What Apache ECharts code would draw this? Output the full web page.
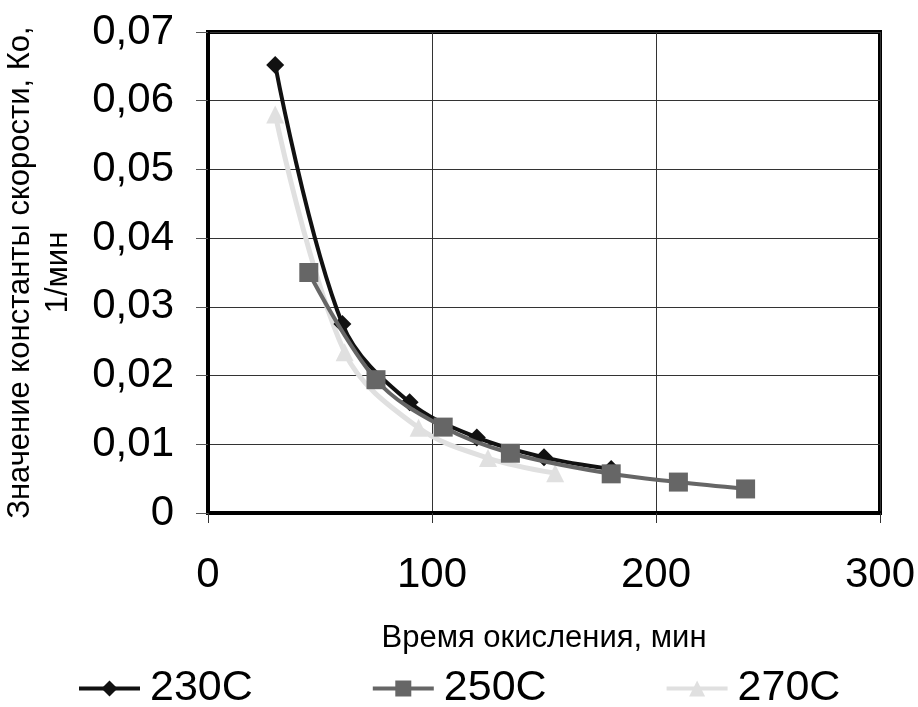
<!DOCTYPE html>
<html><head><meta charset="utf-8">
<script src="https://cdn.jsdelivr.net/npm/echarts@6/dist/echarts.min.js"></script>
<style>html,body{margin:0;padding:0;background:#fff}#c{width:918px;height:707px}</style>
</head><body><div id="c"></div>
<script>
const seriesNames = ['230C', '250C', '270C'];
const x230 = [30, 60, 90, 120, 150, 180];
const y230 = [0.0652, 0.0275, 0.0161, 0.0110, 0.0081, 0.0064];
const x250 = [45, 75, 105, 135, 180, 210, 240];
const y250 = [0.0350, 0.0194, 0.0125, 0.0087, 0.0057, 0.0045, 0.0035];
const x270 = [30, 61, 94, 125, 155];
const y270 = [0.0580, 0.0234, 0.0124, 0.0080, 0.0058];
const xTicks = [0, 100, 200, 300];
const yTicks = [0, 0.01, 0.02, 0.03, 0.04, 0.05, 0.06, 0.07];

const pair = (xs, ys) => xs.map((x, i) => [x, ys[i]]);
const font = 'Liberation Sans, Arial, sans-serif';
const chart = echarts.init(document.getElementById('c'));
chart.setOption({
  animation: false,
  grid: {left: 208, right: 38, top: 32, bottom: 194, containLabel: false, outerBoundsMode: 'none',
    show: true, borderColor: '#000', borderWidth: 4, backgroundColor: '#fff'},
  xAxis: {
    type: 'value', min: xTicks[0], max: xTicks[xTicks.length - 1], interval: 100,
    name: 'Время окисления, мин', nameLocation: 'middle', nameGap: 110,
    nameTextStyle: {fontFamily: font, fontSize: 31, color: '#000'},
    axisLine: {show: true, lineStyle: {color: '#000', width: 4}},
    axisTick: {show: true, length: 10, lineStyle: {color: '#333', width: 1}},
    axisLabel: {fontFamily: font, fontSize: 42, color: '#000', margin: 41},
    splitLine: {show: true, lineStyle: {color: '#333', width: 1}}
  },
  yAxis: {
    type: 'value', min: yTicks[0], max: yTicks[yTicks.length - 1], interval: 0.01,
    name: 'Значение константы скорости, Ко,\n1/мин', nameLocation: 'middle', nameGap: 131, nameRotate: 90,
    nameTextStyle: {fontFamily: font, fontSize: 31, color: '#000', lineHeight: 38, align: 'center'},
    axisLine: {show: true, lineStyle: {color: '#000', width: 4}},
    axisTick: {show: true, length: 12, lineStyle: {color: '#555', width: 1}},
    axisLabel: {fontFamily: font, fontSize: 42, color: '#000', margin: 34,
      formatter: v => v === 0 ? '0' : v.toFixed(2).replace('.', ',')},
    splitLine: {show: true, lineStyle: {color: '#333', width: 1}}
  },
  legend: {
    data: seriesNames, bottom: -8, left: 72, itemWidth: 61, itemHeight: 20, itemGap: 118,
    lineStyle: {width: 4},
    textStyle: {fontFamily: font, fontSize: 43, color: '#000', padding: [0, 0, 0, 5]}
  },
  series: [
    {name: seriesNames[0], type: 'line', smooth: 0.35, data: pair(x230, y230), symbol: 'diamond', symbolSize: 18,
      itemStyle: {color: '#111'}, lineStyle: {color: '#111', width: 4}, z: 3},
    {name: seriesNames[1], type: 'line', smooth: 0.35, data: pair(x250, y250), symbol: 'rect', symbolSize: 19,
      itemStyle: {color: '#666'}, lineStyle: {color: '#666', width: 4}, z: 4},
    {name: seriesNames[2], type: 'line', smooth: 0.35, data: pair(x270, y270), symbol: 'triangle', symbolSize: 18,
      itemStyle: {color: '#e0e0e0'}, lineStyle: {color: '#e0e0e0', width: 5}, z: 2}
  ]
});
</script></body></html>
